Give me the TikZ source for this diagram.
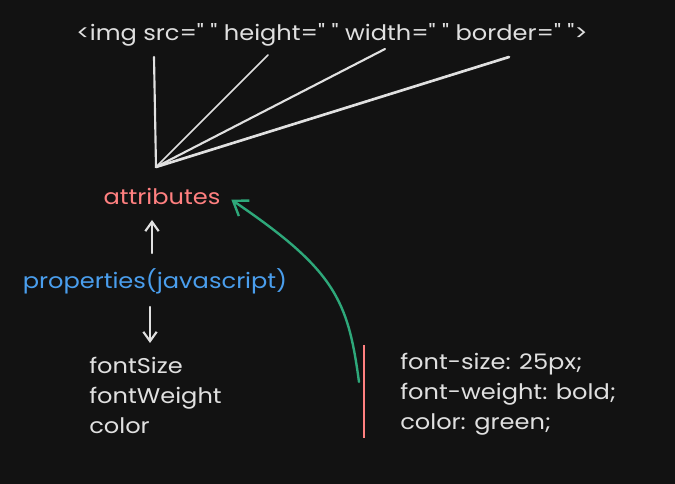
\documentclass[tikz,border=0pt]{standalone}
\usepackage{fontspec}
\setmainfont{Poppins}[Ligatures=TeXOff, FakeStretch=1.13]
\usetikzlibrary{arrows.meta}
\definecolor{canvas}{RGB}{18,18,18}
\definecolor{chalk}{RGB}{224,224,224}
\definecolor{attrred}{RGB}{255,128,128}
\definecolor{propblue}{RGB}{74,158,237}
\definecolor{linkgreen}{RGB}{46,168,122}

\begin{document}
\begin{tikzpicture}[
    x=0.75pt, y=-0.75pt,
    lbl/.style={inner sep=0pt, text=chalk, anchor=base, font=\fontsize{16}{22.5}\selectfont},
    listlbl/.style={lbl, align=left, anchor=north west},
    stroke/.style={chalk, line width=1.6pt, line cap=round},
    arr/.style={stroke, -{Straight Barb[length=7pt, width=10pt]}}
  ]
  \fill[canvas] (0,0) rectangle (675,484);
  \useasboundingbox (0,0) rectangle (675,484);

  % markup line and the fan of attribute lines
  \node[lbl] (tag) at (332,41) {<img src=" " height=" " width=" " border=" ">};
  \coordinate (fan) at (156,167);
  \coordinate (src) at (154,57);
  \coordinate (height) at (268,55);
  \coordinate (width) at (385,49);
  \coordinate (border) at (509,57);
  \draw[stroke] (fan) -- (src);
  \draw[stroke, line width=1.2pt] (fan) -- (height);
  \draw[stroke] (fan) -- (width);
  \draw[stroke, line width=2pt] (fan) -- (border);

  % attributes vs properties
  \node[lbl, text=attrred] (attr) at (162,205) {attributes};
  \node[lbl, text=propblue] (props) at (155,289) {properties(javascript)};
  \coordinate (upfoot) at (152,253);
  \coordinate (downfoot) at (150,307);
  \draw[arr] (upfoot) -- (upfoot |- 0,220);
  \node[listlbl] (jsnames) at (89,357) {fontSize\\fontWeight\\color};
  \draw[arr] (downfoot) -- (downfoot |- 0,343);

  % css side
  \node[listlbl] (cssnames) at (400,353) {font-size: 25px;\\font-weight: bold;\\color: green;};
  \coordinate (bartop) at (364,345);
  \coordinate (barbot) at (364,438);
  \draw[attrred, line width=2.2pt] (bartop) -- (barbot);
  \coordinate (curvefoot) at (359,382);
  \draw[linkgreen, line width=1.8pt, line cap=round, -{Straight Barb[length=10pt, width=14pt]}]
    (curvefoot) .. controls (348,300) and (335,270) .. ([xshift=8pt,yshift=-2pt]attr.east);
\end{tikzpicture}
\end{document}
